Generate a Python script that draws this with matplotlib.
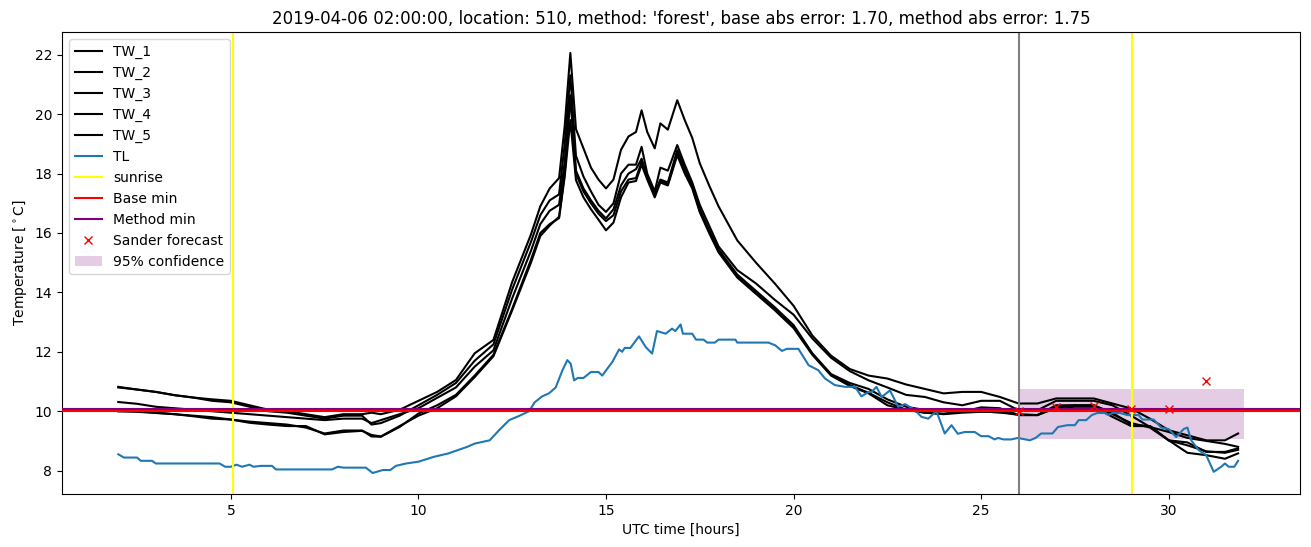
import matplotlib
matplotlib.use("Agg")
import matplotlib.pyplot as plt

# ---------------- data ----------------
hours = [2.0, 2.5, 3.0, 3.5, 4.0, 4.5, 5.0, 5.5, 6.0, 6.5, 7.0, 7.5, 8.0, 8.5, 8.75, 9.0, 9.5,
         10.0, 10.5, 11.0, 11.5, 12.0, 12.5, 13.0, 13.25, 13.5, 13.75, 13.9, 14.05, 14.2, 14.4,
         14.6, 14.8, 15.0, 15.2, 15.4, 15.6, 15.8, 15.95, 16.1, 16.3, 16.45, 16.65, 16.9, 17.1,
         17.3, 17.5, 17.75, 18.0, 18.5, 19.0, 19.5, 20.0, 20.5, 21.0, 21.5, 22.0, 22.5, 23.0,
         23.5, 24.0, 24.5, 25.0, 25.5, 26.0, 26.5, 27.0, 27.5, 28.0, 28.5, 29.0, 29.5, 30.0,
         30.5, 31.0, 31.5, 31.85]

tw_1 = [10.82, 10.73, 10.65, 10.54, 10.46, 10.40, 10.35, 10.20, 10.05, 10.00, 9.90, 9.80, 9.90, 9.90, 9.95, 9.90, 10.05,
        10.35, 10.65, 11.05, 11.95, 12.40, 14.35, 15.95, 16.90, 17.50, 17.85, 19.60, 22.06, 19.50, 18.85,
        18.20, 17.80, 17.50, 17.80, 18.80, 19.25, 19.40, 20.13, 19.40, 18.85, 19.69, 19.48, 20.47, 19.80,
        19.20, 18.35, 17.60, 16.90, 15.75, 15.00, 14.30, 13.55, 12.55, 11.87, 11.42, 11.20, 11.10, 10.90,
        10.75, 10.60, 10.65, 10.65, 10.48, 10.26, 10.26, 10.43, 10.43, 10.43, 10.26, 10.09, 9.75, 9.36,
        9.19, 9.02, 9.02, 9.25]
tw_2 = [10.80, 10.73, 10.65, 10.54, 10.46, 10.35, 10.30, 10.15, 10.00, 9.95, 9.85, 9.75, 9.85, 9.85, 9.55, 9.60, 9.85,
        10.20, 10.55, 10.95, 11.70, 12.25, 14.10, 15.70, 16.60, 17.10, 17.30, 19.00, 21.31, 18.60, 17.90,
        17.40, 16.95, 16.71, 17.00, 18.00, 18.30, 18.30, 18.90, 18.00, 17.40, 18.20, 18.10, 18.96, 18.30,
        17.70, 16.95, 16.25, 15.55, 14.75, 14.30, 13.75, 13.25, 12.45, 11.80, 11.35, 11.04, 10.80, 10.55,
        10.48, 10.30, 10.20, 10.35, 10.35, 10.03, 10.03, 10.35, 10.35, 10.35, 10.20, 9.85, 9.47, 9.30,
        9.10, 9.00, 8.90, 8.80]
tw_3 = [10.31, 10.25, 10.15, 10.10, 10.05, 10.00, 9.95, 9.90, 9.85, 9.80, 9.75, 9.70, 9.75, 9.75, 9.60, 9.70, 9.90,
        10.10, 10.45, 10.80, 11.50, 12.05, 13.80, 15.40, 16.30, 16.75, 16.95, 18.40, 20.64, 18.10, 17.50,
        17.10, 16.75, 16.49, 16.80, 17.60, 18.00, 18.15, 18.50, 17.90, 17.35, 17.80, 17.70, 18.79, 18.20,
        17.60, 16.80, 16.10, 15.45, 14.60, 14.05, 13.50, 12.90, 11.95, 11.25, 10.95, 10.75, 10.40, 10.15,
        10.04, 10.04, 9.98, 10.13, 10.10, 9.87, 9.87, 10.15, 10.20, 10.20, 9.95, 9.55, 9.50, 9.02,
        8.95, 8.63, 8.63, 8.75]
tw_4 = [10.00, 10.00, 9.95, 9.90, 9.85, 9.80, 9.72, 9.65, 9.60, 9.55, 9.45, 9.25, 9.35, 9.35, 9.15, 9.14, 9.47,
        9.92, 10.20, 10.55, 11.20, 11.90, 13.45, 15.10, 16.00, 16.30, 16.50, 17.90, 19.80, 17.78, 17.20,
        16.80, 16.45, 16.09, 16.35, 17.20, 17.70, 17.75, 18.30, 17.80, 17.20, 17.70, 17.60, 18.62, 18.00,
        17.50, 16.70, 16.00, 15.35, 14.50, 13.95, 13.40, 12.80, 11.90, 11.20, 10.85, 10.60, 10.20, 10.05,
        9.95, 9.90, 9.95, 9.98, 9.98, 9.87, 9.87, 10.10, 10.15, 10.15, 9.81, 9.50, 9.50, 9.02,
        8.85, 8.65, 8.60, 8.70]
tw_5 = [10.00, 9.98, 9.94, 9.90, 9.83, 9.75, 9.72, 9.61, 9.55, 9.50, 9.50, 9.22, 9.30, 9.34, 9.20, 9.15, 9.50,
        9.85, 10.10, 10.50, 11.15, 11.85, 13.40, 15.00, 15.90, 16.25, 16.55, 18.00, 20.60, 18.00, 17.40,
        17.00, 16.65, 16.40, 16.60, 17.40, 17.80, 17.85, 18.40, 17.85, 17.30, 17.75, 17.65, 18.70, 18.10,
        17.55, 16.75, 16.05, 15.40, 14.55, 14.00, 13.45, 12.85, 11.93, 11.22, 10.88, 10.62, 10.30, 10.05,
        9.95, 9.92, 9.98, 10.00, 9.95, 9.90, 9.87, 10.20, 10.20, 10.20, 9.90, 9.60, 9.45, 9.02,
        8.60, 8.52, 8.40, 8.58]

tl_hours = [2.0, 2.15, 2.5, 2.6, 2.9, 3.0, 4.7, 4.85, 5.0, 5.15, 5.3, 5.5, 5.6, 5.8, 6.1, 6.2, 7.7, 7.85,
            8.0, 8.6, 8.78, 9.05, 9.25, 9.4, 9.67, 10.0, 10.4, 10.8, 11.3, 11.5, 11.9, 12.15, 12.42, 12.7,
            12.95, 13.1, 13.3, 13.48, 13.66, 13.84, 13.97, 14.06, 14.15, 14.25, 14.4, 14.6, 14.8, 14.9,
            15.17, 15.35, 15.43, 15.5, 15.65, 15.88, 16.06, 16.23, 16.36, 16.59, 16.76, 16.85, 16.99,
            17.05, 17.3, 17.4, 17.6, 17.7, 17.9, 18.0, 18.45, 18.5, 19.33, 19.51, 19.69, 19.82, 20.13,
            20.4, 20.66, 20.84, 21.1, 21.37, 21.64, 21.81, 22.0, 22.08, 22.21, 22.35, 22.57, 22.79,
            22.97, 23.23, 23.41, 23.59, 23.81, 24.03, 24.21, 24.38, 24.56, 24.83, 25.0, 25.2, 25.36,
            25.45, 25.6, 25.8, 25.98, 26.3, 26.45, 26.6, 26.9, 27.05, 27.3, 27.5, 27.6, 27.8, 27.95,
            28.1, 28.3, 28.4, 28.5, 28.7, 28.9, 29.2, 29.3, 29.6, 29.8, 30.0, 30.2, 30.4, 30.5, 30.6,
            30.8, 31.0, 31.2, 31.4, 31.5, 31.6, 31.75, 31.85]
tl = [8.55, 8.44, 8.44, 8.33, 8.33, 8.24, 8.24, 8.13, 8.13, 8.20, 8.13, 8.20, 8.13, 8.16, 8.16, 8.04, 8.04, 8.13,
      8.10, 8.10, 7.92, 8.02, 8.02, 8.16, 8.24, 8.30, 8.46, 8.58, 8.80, 8.91, 9.02, 9.36, 9.70, 9.85,
      10.00, 10.30, 10.50, 10.60, 10.80, 11.38, 11.72, 11.60, 11.04, 11.12, 11.12, 11.32, 11.32, 11.20,
      11.66, 12.08, 12.00, 12.13, 12.13, 12.52, 12.16, 11.94, 12.70, 12.61, 12.78, 12.70, 12.92,
      12.61, 12.61, 12.41, 12.41, 12.31, 12.31, 12.41, 12.41, 12.31, 12.31, 12.22, 12.03, 12.10, 12.10,
      11.55, 11.38, 11.10, 10.88, 10.82, 10.82, 10.50, 10.65, 10.65, 10.82, 10.48, 10.70, 10.15,
      10.24, 10.05, 9.81, 9.75, 10.00, 9.25, 9.53, 9.24, 9.30, 9.30, 9.16, 9.16, 9.05,
      9.10, 9.05, 9.05, 9.10, 9.02, 9.10, 9.25, 9.25, 9.47, 9.53, 9.53, 9.70, 9.70, 9.87,
      9.94, 9.94, 9.87, 9.94, 9.94, 9.87, 9.87, 9.72, 9.72, 9.45, 9.40, 9.13, 9.40, 9.45, 9.02,
      8.69, 8.52, 7.96, 8.13, 8.24, 8.13, 8.13, 8.33]

sunrise_hours = [5.05, 29.03]
forecast_start = 26.0
base_min = 10.02
method_min = 10.07
sander_hours = [26, 27, 28, 29, 30, 31]
sander_values = [10.01, 10.14, 10.18, 10.06, 10.07, 11.03]
conf_hours = [26.0, 32.0]
conf_low = [9.06, 9.06]
conf_high = [10.74, 10.74]

title = ("2019-04-06 02:00:00, location: 510, method: 'forest', "
         "base abs error: 1.70, method abs error: 1.75")

# ---------------- plot ----------------
fig = plt.figure(figsize=(13.11, 5.47), dpi=100)
ax = fig.add_axes([0.0473, 0.0969, 0.9443, 0.8446])

for name, vals in [("TW_1", tw_1), ("TW_2", tw_2), ("TW_3", tw_3), ("TW_4", tw_4), ("TW_5", tw_5)]:
    ax.plot(hours, vals, color="black", label=name)
ax.plot(tl_hours, tl, color="#1f77b4", label="TL")

for i, h in enumerate(sunrise_hours):
    ax.axvline(h, color="yellow", label="sunrise" if i == 0 else None)
ax.axvline(forecast_start, color="gray")

ax.axhline(base_min, color="red", label="Base min", zorder=3)
ax.axhline(method_min, color="purple", label="Method min", zorder=2.9)
ax.plot(sander_hours, sander_values, "x", color="red", label="Sander forecast", zorder=4)
ax.fill_between(conf_hours, conf_low, conf_high, color="purple", alpha=0.2,
                linewidth=0, label="95% confidence")

ax.set_xlabel("UTC time [hours]")
ax.set_ylabel(r"Temperature [$^\circ$C]")
ax.set_title(title)
ax.legend(loc="upper left")

fig.savefig("out.png", dpi=100)
